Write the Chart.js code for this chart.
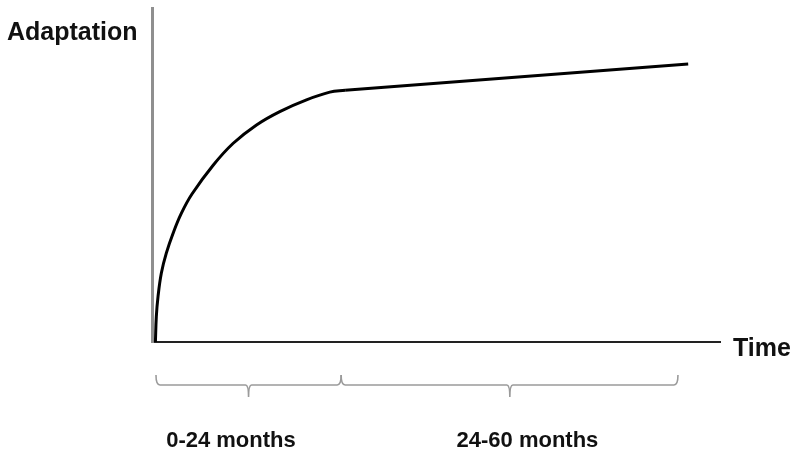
<!DOCTYPE html>
<html>
<head>
    <meta charset="UTF-8">
    <title>Adaptation over time</title>
    <style>
        body { margin: 0; padding: 0; background: #fff; }
        #box { width: 799px; height: 457px; position: relative; }
    </style>
</head>
<body>
    <div id="box"><canvas id="adaptChart"></canvas></div>

    <script src="https://cdn.jsdelivr.net/npm/chart.js"></script>
    <script>
        // growth phase (steep curve) and slow phase (straight line), x in arbitrary time units
        const growthX = [0.6, 0.76, 1.06, 1.64, 2.52, 3.7, 5.16, 7.04, 10.8, 14.3, 18.4, 22.5, 27.2, 31.3, 34.0];
        const growthY = [0, 7.6, 13.6, 20.6, 26.6, 32.5, 38.5, 44.3, 53.0, 59.5, 65.0, 69.0, 72.5, 74.8, 75.4];
        const slowX = [34.0, 94.4];
        const slowY = [75.4, 83.2];

        // braces under the axis and their labels
        const braceStart = [0.7, 33.3];
        const braceTip = [17.0, 63.0];
        const braceEnd = [33.3, 92.6];
        const periodLabels = ['0-24 months', '24-60 months'];
        const periodLabelX = [13.9, 66.1];

        const yTitle = 'Adaptation';
        const xTitle = 'Time';

        function toPoints(xs, ys) {
            return xs.map((x, i) => ({ x: x, y: ys[i] }));
        }

        const textFont = 'bold 22px "Liberation Sans", Arial, sans-serif';
        const titleFont = 'bold 25px "Liberation Sans", Arial, sans-serif';

        const extras = {
            id: 'extras',
            afterDraw(chart) {
                const ctx = chart.ctx;
                const xs = chart.scales.x;
                const area = chart.chartArea;
                ctx.save();

                // braces
                ctx.strokeStyle = '#9a9a9a';
                ctx.lineWidth = 1.6;
                const top = area.bottom + 33, mid = area.bottom + 43, tip = area.bottom + 55;
                for (let i = 0; i < braceStart.length; i++) {
                    const a = xs.getPixelForValue(braceStart[i]);
                    const m = xs.getPixelForValue(braceTip[i]);
                    const b = xs.getPixelForValue(braceEnd[i]);
                    ctx.beginPath();
                    ctx.moveTo(a, top);
                    ctx.quadraticCurveTo(a, mid, a + 4, mid);
                    ctx.lineTo(m - 3, mid);
                    ctx.quadraticCurveTo(m, mid, m, tip);
                    ctx.quadraticCurveTo(m, mid, m + 3, mid);
                    ctx.lineTo(b - 4, mid);
                    ctx.quadraticCurveTo(b, mid, b, top);
                    ctx.stroke();
                }

                // period labels
                ctx.fillStyle = '#111';
                ctx.font = textFont;
                ctx.textAlign = 'center';
                ctx.textBaseline = 'alphabetic';
                periodLabels.forEach((t, i) => {
                    ctx.fillText(t, xs.getPixelForValue(periodLabelX[i]), area.bottom + 105);
                });

                // axis titles
                ctx.font = titleFont;
                ctx.textAlign = 'left';
                ctx.fillText(yTitle, 7, area.top + 32);
                ctx.fillText(xTitle, area.right + 13, area.bottom + 14);
                ctx.restore();
            }
        };

        new Chart(document.getElementById('adaptChart'), {
            type: 'line',
            data: {
                datasets: [{
                    data: toPoints(growthX, growthY),
                    borderColor: '#000',
                    borderWidth: 3,
                    pointRadius: 0,
                    tension: 0.4,
                    fill: false
                }, {
                    data: toPoints(slowX, slowY),
                    borderColor: '#000',
                    borderWidth: 3,
                    pointRadius: 0,
                    tension: 0,
                    fill: false
                }]
            },
            options: {
                responsive: true,
                maintainAspectRatio: false,
                animation: false,
                layout: { padding: { left: 152, right: 79, top: 8, bottom: 115 } },
                plugins: { legend: { display: false }, tooltip: { enabled: false } },
                scales: {
                    x: {
                        type: 'linear',
                        min: 0,
                        max: 100,
                        grid: { display: false, drawTicks: false },
                        ticks: { display: false },
                        border: { display: true, color: '#222', width: 2 }
                    },
                    y: {
                        min: 0,
                        max: 100,
                        grid: { display: false, drawTicks: false },
                        ticks: { display: false },
                        border: { display: true, color: '#8f8f8f', width: 3 }
                    }
                }
            },
            plugins: [extras]
        });
    </script>
</body>
</html>
